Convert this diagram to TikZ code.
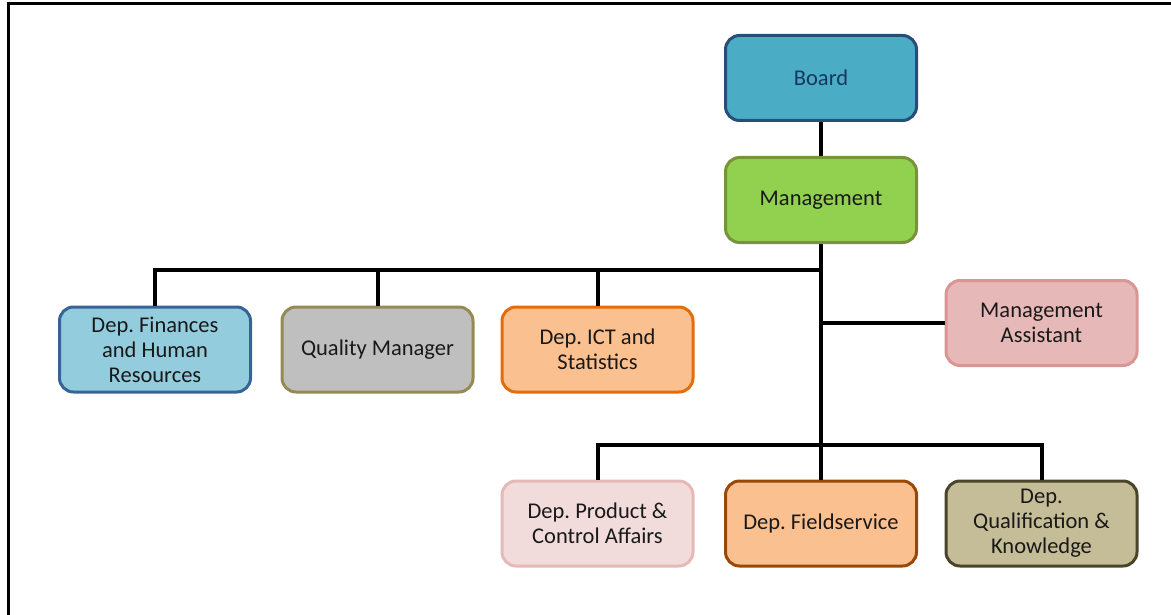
\documentclass[tikz,border=0pt]{standalone}
\usepackage{fontspec}
\setmainfont{Carlito}
\usepackage{tikz}
\usetikzlibrary{positioning, calc}
\frenchspacing

\definecolor{boardfill}{RGB}{75,172,198}
\definecolor{boardline}{RGB}{40,78,120}
\definecolor{mgmtfill}{RGB}{146,208,80}
\definecolor{mgmtline}{RGB}{119,147,60}
\definecolor{finfill}{RGB}{147,205,221}
\definecolor{finline}{RGB}{55,100,150}
\definecolor{qualfill}{RGB}{191,191,191}
\definecolor{qualline}{RGB}{148,138,84}
\definecolor{ictfill}{RGB}{250,192,144}
\definecolor{ictline}{RGB}{228,108,10}
\definecolor{asstfill}{RGB}{230,185,184}
\definecolor{asstline}{RGB}{217,150,148}
\definecolor{prodfill}{RGB}{242,220,219}
\definecolor{prodline}{RGB}{230,185,184}
\definecolor{fieldline}{RGB}{152,72,7}
\definecolor{qualkfill}{RGB}{196,189,151}
\definecolor{qualkline}{RGB}{74,69,42}
\definecolor{boardtext}{RGB}{23,55,94}

\begin{document}
\begin{tikzpicture}[
    x=1pt, y=-1pt,
    unit/.style={rectangle, draw, rounded corners=14pt, line width=3pt, minimum width=191pt, minimum height=85pt, align=center, inner sep=2pt, font=\fontsize{22.5}{25}\selectfont, text=black!90},
    conn/.style={line width=4pt, black},
]
    \useasboundingbox (0,0) rectangle (1171,615);

    % frame (only top and left edge are in view)
    \draw[line width=3pt] (8,615) -- (8,4) -- (1171,4);

    % Row 1: board and management
    \node[unit, fill=boardfill, draw=boardline, text=boardtext] (board) at (821, 78) {Board};
    \node[unit, fill=mgmtfill, draw=mgmtline] (mgmt) at (821, 200) {Management};

    % Row 2: three departments on the left, assistant on the right
    \node[unit, fill=finfill, draw=finline] (finhr) at (155, 349.5) {Dep. Finances\\and Human\\Resources};
    \node[unit, fill=qualfill, draw=qualline] (qual) at (377.5, 349.5) {Quality Manager};
    \node[unit, fill=ictfill, draw=ictline] (ict) at (597.5, 349.5) {Dep. ICT and\\Statistics};
    \node[unit, fill=asstfill, draw=asstline] (asst) at (1041.5, 323) {Management\\Assistant};

    % Row 3: three departments at the bottom
    \node[unit, fill=prodfill, draw=prodline] (prod) at (597.5, 523.5) {Dep. Product \&\\Control Affairs};
    \node[unit, fill=ictfill, draw=fieldline] (field) at (821, 523.5) {Dep. Fieldservice};
    \node[unit, fill=qualkfill, draw=qualkline] (qualk) at (1041.5, 523.5) {Dep.\\Qualification \&\\Knowledge};

    % bus junctions on the trunk
    \coordinate (topbus) at (821, 270);
    \coordinate (botbus) at (821, 445);

    % trunk
    \draw[conn] (board) -- (mgmt);
    \draw[conn] (mgmt) -- (field);

    % upper bus
    \draw[conn] (topbus) -| (finhr);
    \draw[conn] (topbus) -| (qual);
    \draw[conn] (topbus) -| (ict);

    % assistant
    \draw[conn] (asst.west) -- (asst.west -| mgmt.south);

    % lower bus
    \draw[conn] (botbus) -| (prod);
    \draw[conn] (botbus) -| (qualk);
\end{tikzpicture}
\end{document}
